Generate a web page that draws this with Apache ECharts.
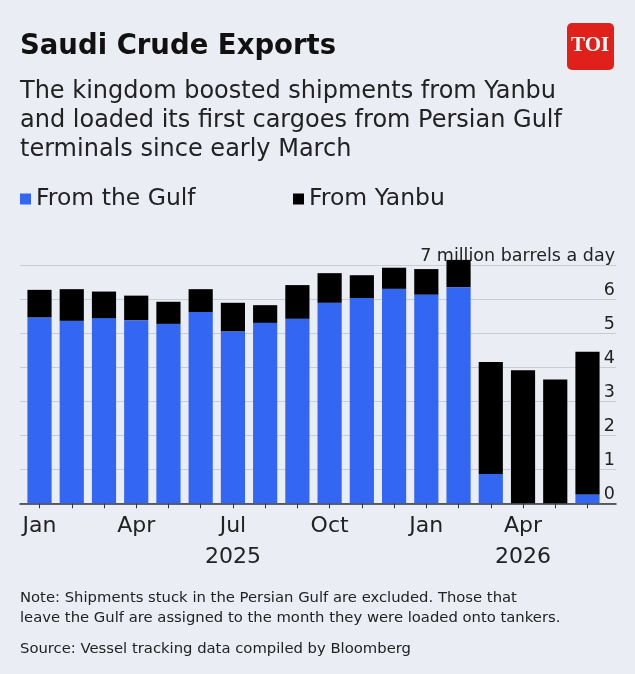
<!DOCTYPE html>
<html><head><meta charset="utf-8">
<script src="https://cdn.jsdelivr.net/npm/echarts@6/dist/echarts.min.js"></script>
<style>html,body{margin:0;padding:0;background:#EAEDF4;}#c{width:635px;height:674px;}</style>
</head><body><div id="c"></div>
<script>
const months = ['Jan 2025','Feb 2025','Mar 2025','Apr 2025','May 2025','Jun 2025','Jul 2025','Aug 2025','Sep 2025','Oct 2025','Nov 2025','Dec 2025','Jan 2026','Feb 2026','Mar 2026','Apr 2026','May 2026','Jun 2026'];
const xTickLabels = ['Jan','','','Apr','','','Jul\n2025','','','Oct','','','Jan','','','Apr\n2026','',''];
const fromGulf = [5.46,5.36,5.44,5.38,5.27,5.62,5.05,5.30,5.42,5.89,6.03,6.30,6.13,6.35,0.86,0,0,0.26];
const fromYanbu = [0.81,0.93,0.78,0.72,0.65,0.67,0.84,0.52,0.99,0.87,0.67,0.62,0.75,0.80,3.29,3.91,3.64,4.19];
const yTicks = [0,1,2,3,4,5,6,7];
const yTickLabels = ['0','1','2','3','4','5','6','7 million barrels a day'];

const FONT = 'DejaVu Sans';
const chart = echarts.init(document.getElementById('c'), null, {renderer:'canvas'});
chart.setOption({
  backgroundColor:'#EAEDF4',
  animation:false,
  textStyle:{fontFamily:FONT},
  title:[
    {text:'Saudi Crude Exports', left:20, top:33, padding:0, textStyle:{fontFamily:FONT,fontSize:27.5,fontWeight:'bold',color:'#111'}},
    {text:'The kingdom boosted shipments from Yanbu\nand loaded its first cargoes from Persian Gulf\nterminals since early March', left:20, top:77, padding:0, textStyle:{fontFamily:FONT,fontSize:24,fontWeight:'normal',color:'#222',lineHeight:29}},
    {text:'Note: Shipments stuck in the Persian Gulf are excluded. Those that\nleave the Gulf are assigned to the month they were loaded onto tankers.', left:20, top:588, padding:0, textStyle:{fontFamily:FONT,fontSize:14.8,fontWeight:'normal',color:'#222',lineHeight:20}},
    {text:'Source: Vessel tracking data compiled by Bloomberg', left:20, top:639, padding:0, textStyle:{fontFamily:FONT,fontSize:14.8,fontWeight:'normal',color:'#222',lineHeight:21}}
  ],
  graphic:[
    {type:'rect', left:567, top:23, shape:{width:47,height:47,r:5}, style:{fill:'#E0201B'}},
    {type:'text', left:571, top:35, style:{text:'TOI', fill:'#fff', font:'bold 21px "Liberation Serif", serif'}}
  ],
  legend:[
    {data:['From the Gulf'], left:20, top:187, padding:0, icon:'rect', itemWidth:11, itemHeight:11, itemGap:7, textStyle:{fontFamily:FONT,fontSize:23.5,color:'#222'}},
    {data:['From Yanbu'], left:293, top:187, padding:0, icon:'rect', itemWidth:11, itemHeight:11, itemGap:7, textStyle:{fontFamily:FONT,fontSize:23.5,color:'#222'}}
  ],
  grid:[
    {left:23.4, width:580.2, top:265, bottom:170.7},
    {left:20, right:19, top:265, bottom:170.7}
  ],
  xAxis:[
    {gridIndex:0, type:'category', data:months, axisLine:{show:false},
     axisTick:{show:true, alignWithLabel:true, interval:0, length:5, lineStyle:{color:'#333'}},
     axisLabel:{interval:0, margin:7, fontFamily:FONT, fontSize:22, lineHeight:31, color:'#222', formatter:(v,i)=>xTickLabels[i]}},
    {gridIndex:1, type:'value', min:0, max:1, axisLine:{show:true, onZero:false, lineStyle:{color:'#333', width:1.5}}, axisTick:{show:false}, axisLabel:{show:false}, splitLine:{show:false}}
  ],
  yAxis:[
    {gridIndex:0, type:'value', min:0, max:7, show:false},
    {gridIndex:1, type:'value', min:0, max:7, interval:1, position:'right',
     axisLine:{show:false}, axisTick:{show:false},
     splitLine:{show:true, lineStyle:{color:'#C8CCD5', width:1}},
     axisLabel:{inside:true, margin:1, verticalAlign:'bottom', fontFamily:FONT, fontSize:17.5, color:'#222',
       formatter:(v)=>yTickLabels[yTicks.indexOf(v)]}}
  ],
  series:[
    {name:'From the Gulf', type:'bar', stack:'t', clip:false, xAxisIndex:0, yAxisIndex:0, data:fromGulf, barCategoryGap:'25%', itemStyle:{color:'#3366F2'}},
    {name:'From Yanbu', type:'bar', stack:'t', clip:false, xAxisIndex:0, yAxisIndex:0, data:fromYanbu, barCategoryGap:'25%', itemStyle:{color:'#000'}}
  ]
});
</script></body></html>
